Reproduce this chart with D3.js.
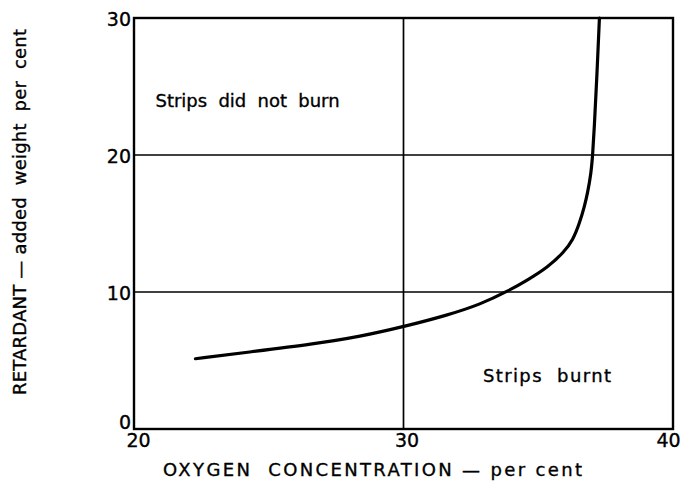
<!DOCTYPE html>
<html>
<head>
<meta charset="utf-8">
<script src="https://cdn.jsdelivr.net/npm/d3@7"></script>
<style>
  html, body { margin: 0; padding: 0; background: #fff; }
  svg { display: block; }
  text { font-family: "DejaVu Sans", "Liberation Sans", sans-serif; fill: #000; stroke: #000; stroke-width: 0.35px; }
</style>
</head>
<body>
<svg id="chart" width="687" height="487"></svg>
<script>
// ---- data ----
const oxygen    = [22.28, 24.2, 26.67, 28.4, 30.01, 31.62, 32.86, 33.91, 34.59, 35.35, 35.95, 36.29, 36.53, 36.71, 36.83, 36.96, 37.02, 37.08, 37.17, 37.27];
const retardant = [5.13, 5.6, 6.2, 6.75, 7.47, 8.3, 9.1, 10.1, 10.86, 11.8, 12.9, 13.8, 15.02, 16.21, 17.21, 18.68, 20.0, 22.0, 25.5, 30.0];
const xTicks = [20, 30, 40];
const yTicks = [0, 10, 20, 30];
const xGrid = [30];
const yGrid = [10, 20];
const xTitle = "OXYGEN  CONCENTRATION — per cent";
const yTitle = "RETARDANT — added  weight  per  cent";
const regionLabels = ["Strips  did  not  burn", "Strips  burnt"];
const regionPos = [[20.8, 23.5], [32.95, 3.4]];

// ---- layout ----
const svg = d3.select("#chart");
const L = 134, R = 673, T = 18, B = 429;
const x = d3.scaleLinear().domain([20, 40]).range([L, R]);
const y = d3.scaleLinear().domain([0, 30]).range([B, T]);

// grid lines
svg.append("g").selectAll("line").data(xGrid).join("line")
  .attr("x1", d => x(d)).attr("x2", d => x(d))
  .attr("y1", T).attr("y2", B)
  .attr("stroke", "#000").attr("stroke-width", 1.7);
svg.append("g").selectAll("line").data(yGrid).join("line")
  .attr("x1", L).attr("x2", R)
  .attr("y1", d => y(d)).attr("y2", d => y(d))
  .attr("stroke", "#000").attr("stroke-width", 1.7);

// frame
svg.append("rect")
  .attr("x", L).attr("y", T).attr("width", R - L).attr("height", B - T)
  .attr("fill", "none").attr("stroke", "#000").attr("stroke-width", 2.4);

// axes (labels only)
const xAxis = svg.append("g").attr("transform", `translate(0,${B})`)
  .call(d3.axisBottom(x).tickValues(xTicks).tickSize(0).tickPadding(4).tickFormat(d3.format("d")));
xAxis.select(".domain").remove();
xAxis.selectAll("text")
  .style("font-size", "19px")
  .attr("dx", (d, i) => i === 0 ? 4 : (i === xTicks.length - 1 ? -5 : 3));

const yAxis = svg.append("g").attr("transform", `translate(${L},0)`)
  .call(d3.axisLeft(y).tickValues(yTicks).tickSize(0).tickPadding(3).tickFormat(d3.format("d")));
yAxis.select(".domain").remove();
yAxis.selectAll("text")
  .style("font-size", "19px")
  .attr("dy", (d) => d === 0 ? "-0.05em" : "0.4em");

// curve
const pts = oxygen.map((v, i) => [v, retardant[i]]);
svg.append("path")
  .datum(pts)
  .attr("fill", "none")
  .attr("stroke", "#000")
  .attr("stroke-width", 3.2)
  .attr("stroke-linecap", "round")
  .attr("d", d3.line().x(d => x(d[0])).y(d => y(d[1])).curve(d3.curveBasis));

// region labels
svg.append("g").selectAll("text").data(regionLabels).join("text")
  .attr("x", (d, i) => x(regionPos[i][0]))
  .attr("y", (d, i) => y(regionPos[i][1]))
  .style("font-size", "18px")
  .attr("xml:space", "preserve")
  .attr("textLength", (d, i) => i === 0 ? 184 : 128)
  .attr("lengthAdjust", "spacing")
  .text(d => d);

// axis titles
svg.append("text")
  .attr("x", 163).attr("y", 476)
  .style("font-size", "18px")
  .attr("xml:space", "preserve")
  .attr("textLength", 419)
  .attr("lengthAdjust", "spacing")
  .text(xTitle);

svg.append("text")
  .attr("transform", "translate(26,395) rotate(-90)")
  .style("font-size", "18px")
  .attr("xml:space", "preserve")
  .attr("textLength", 366)
  .attr("lengthAdjust", "spacing")
  .text(yTitle);
</script>
</body>
</html>
